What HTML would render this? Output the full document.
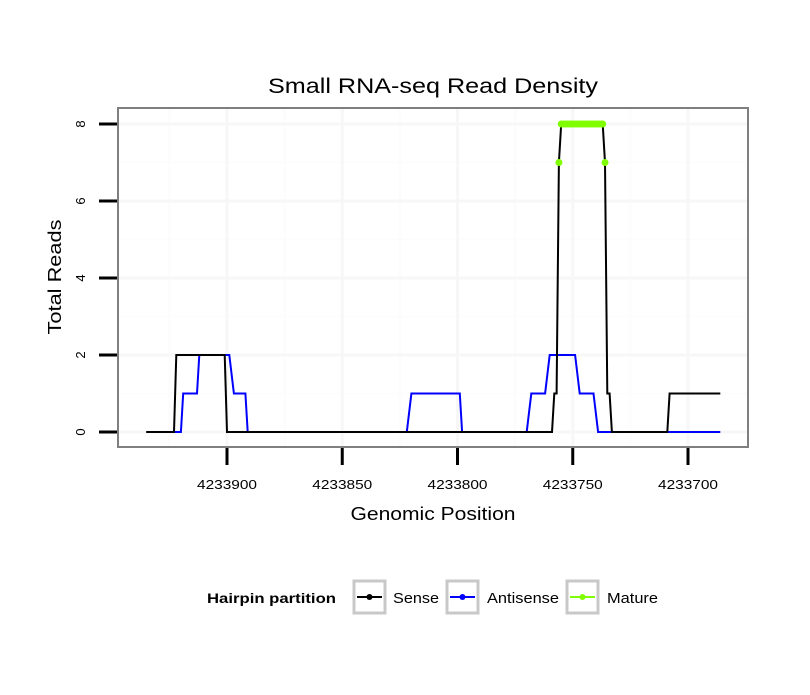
<!DOCTYPE html>
<html><head><meta charset="utf-8"><style>
body{margin:0;background:#fff;font-family:"Liberation Sans",sans-serif}
svg text{font-family:"Liberation Sans",sans-serif}
</style></head><body>
<svg id="chart" width="810" height="690" xmlns="http://www.w3.org/2000/svg">
<rect width="810" height="690" fill="#fff"/>
<text x="433" y="93" font-size="21" text-anchor="middle" textLength="330" lengthAdjust="spacingAndGlyphs">Small RNA-seq Read Density</text>
<g id="grid"></g>
<g id="series"></g>
<rect x="118" y="108" width="630" height="339" fill="none" stroke="#7f7f7f" stroke-width="2"/>
<g id="axes"></g>
<text x="433" y="520" font-size="18" text-anchor="middle" textLength="165" lengthAdjust="spacingAndGlyphs">Genomic Position</text>
<text x="0" y="0" font-size="18" text-anchor="middle" textLength="115" lengthAdjust="spacingAndGlyphs" transform="translate(61,277) rotate(-90)">Total Reads</text>
<g>
<text x="207" y="603" font-size="14" font-weight="bold" textLength="129" lengthAdjust="spacingAndGlyphs">Hairpin partition</text>
<g>
<rect x="354" y="581" width="31" height="32" fill="#fff" stroke="#c8c8c8" stroke-width="3"/>
<line x1="357" y1="597" x2="382" y2="597" stroke="#000" stroke-width="2"/><circle cx="369.5" cy="597" r="3" fill="#000"/>
<text x="393" y="603" font-size="15" textLength="46" lengthAdjust="spacingAndGlyphs">Sense</text></g>
<g>
<rect x="447" y="581" width="31" height="32" fill="#fff" stroke="#c8c8c8" stroke-width="3"/>
<line x1="450" y1="597" x2="475" y2="597" stroke="#0000ff" stroke-width="2"/><circle cx="462.5" cy="597" r="3" fill="#0000ff"/>
<text x="487" y="603" font-size="15" textLength="72" lengthAdjust="spacingAndGlyphs">Antisense</text></g>
<g>
<rect x="567" y="581" width="31" height="32" fill="#fff" stroke="#c8c8c8" stroke-width="3"/>
<line x1="570" y1="597" x2="595" y2="597" stroke="#7fff00" stroke-width="2"/><circle cx="582.5" cy="597" r="3" fill="#7fff00"/>
<text x="607" y="603" font-size="15" textLength="51" lengthAdjust="spacingAndGlyphs">Mature</text></g>
</g>
</svg>
<script>
const senseX=[4233935,4233923,4233922,4233901,4233900,4233759,4233758,4233757,4233756,4233755,4233737,4233736,4233735,4233734,4233733,4233709,4233708,4233686];
const senseY=[0,0,2,2,0,0,1,1,7,8,8,7,1,1,0,0,1,1];
const antiX=[4233935,4233920,4233919,4233913,4233912,4233899,4233897,4233892,4233891,4233822,4233820,4233799,4233798,4233770,4233768,4233762,4233760,4233749,4233747,4233741,4233739,4233686];
const antiY=[0,0,1,1,2,2,1,1,0,0,1,1,0,0,1,1,2,2,1,1,0,0];
const matureX=[4233756,4233755,4233754,4233753,4233752,4233751,4233750,4233749,4233748,4233747,4233746,4233745,4233744,4233743,4233742,4233741,4233740,4233739,4233738,4233737,4233736];
const matureY=[7,8,8,8,8,8,8,8,8,8,8,8,8,8,8,8,8,8,8,8,7];
const xTicks=[4233900,4233850,4233800,4233750,4233700];
const xMinor=[4233925,4233875,4233825,4233775,4233725];
const yTicks=[0,2,4,6,8];
const yMinor=[1,3,5,7];
const NS='http://www.w3.org/2000/svg';
function sx(p){return 227+(4233900-p)*2.305;}
function sy(v){return 432-v*38.5;}
function mk(tag,attrs,parent){const e=document.createElementNS(NS,tag);for(const k in attrs)e.setAttribute(k,attrs[k]);parent.appendChild(e);return e;}
const grid=document.getElementById('grid'),axes=document.getElementById('axes'),series=document.getElementById('series');
xMinor.forEach(p=>{const l=mk('line',{x1:sx(p),x2:sx(p),y1:109,y2:446,stroke:'#fcfcfc','stroke-width':2},grid);

});
yMinor.forEach(v=>{const l=mk('line',{x1:119,x2:747,y1:sy(v),y2:sy(v),stroke:'#fcfcfc','stroke-width':2},grid);

});
xTicks.forEach(p=>{const l=mk('line',{x1:sx(p),x2:sx(p),y1:109,y2:446,stroke:'#f7f7f7','stroke-width':3},grid);


const t=mk('line',{x1:sx(p),x2:sx(p),y1:448,y2:465,stroke:'#000','stroke-width':3},axes);


const tx=mk('text',{x:sx(p),y:489,'font-size':13,'text-anchor':'middle',textLength:60,lengthAdjust:'spacingAndGlyphs'},axes);tx.textContent=String(p);

});
yTicks.forEach(v=>{const l=mk('line',{x1:119,x2:747,y1:sy(v),y2:sy(v),stroke:'#f7f7f7','stroke-width':3},grid);


const t=mk('line',{x1:99,x2:117,y1:sy(v),y2:sy(v),stroke:'#000','stroke-width':3},axes);


const tx=mk('text',{x:0,y:0,'font-size':13,'text-anchor':'middle',transform:`translate(85,${sy(v)}) rotate(-90)`},axes);tx.textContent=String(v);

});
function path(xs,ys){return xs.map((p,i)=>(i?'L':'M')+sx(p).toFixed(1)+','+sy(ys[i]).toFixed(1)).join('');}
const pa=mk('path',{d:path(antiX,antiY),fill:'none',stroke:'#0000ff','stroke-width':2},series);


const ps=mk('path',{d:path(senseX,senseY),fill:'none',stroke:'#000','stroke-width':2},series);


matureX.forEach((p,i)=>{const c=mk('circle',{cx:sx(p),cy:sy(matureY[i]),r:3.5,fill:'#7fff00'},series);

});
</script>
</body></html>
